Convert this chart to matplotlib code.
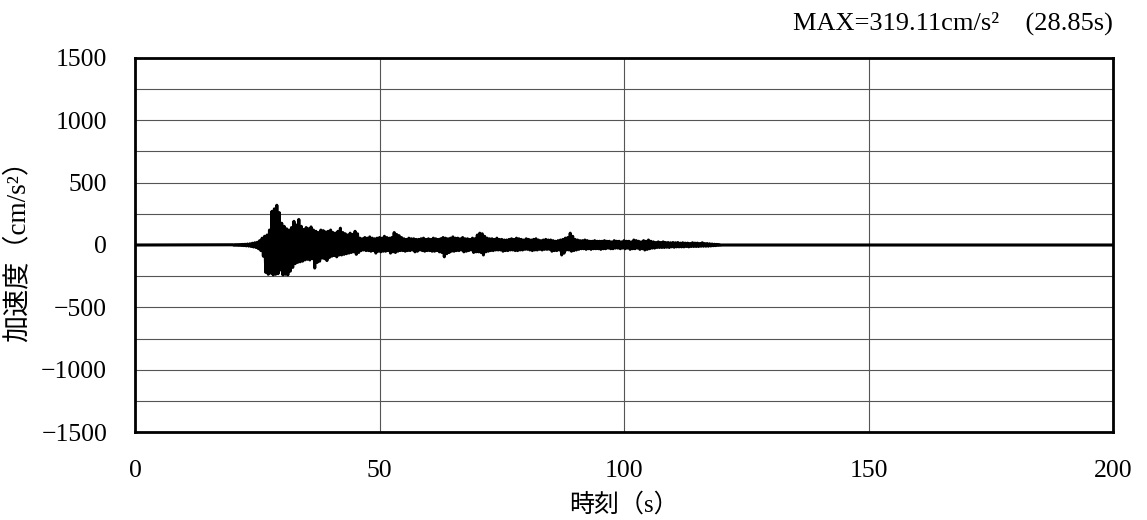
import numpy as np
import matplotlib
matplotlib.use("Agg")
import matplotlib.pyplot as plt

# 加速度時刻歴（図から読み取った値, 20s から 0.25s ごと）
t_start = 20.0
dt = 0.25
acc = [
    2, -2, 3, -2, 3, -3, 4, -4, 5, -5, 6, -7, 8, -9, 10, -12, 14, -16, 18, -20,                  # 20-
    22, -30, 35, -45, 55, -90, 70, -220, 80, -235, 120, -225, 270, -240, 290, -235, 319.11, -230, 260, -200,  # 25-
    175, -240, 150, -235, 130, -240, 120, -210, 140, -180, 190, -150, 160, -140, 205, -135, 150, -130, 125, -120,  # 30-
    140, -115, 130, -120, 145, -110, 120, -185, 110, -140, 100, -130, 120, -105, 115, -110, 105, -125, 110, -100,  # 35-
    120, -90, 100, -85, 95, -95, 110, -80, 135, -80, 100, -75, 90, -70, 80, -65, 95, -60, 85, -55,  # 40-
    110, -75, 90, -60, 55, -45, 50, -40, 60, -45, 55, -45, 65, -50, 55, -45, 50, -65, 55, -50,    # 45-
    60, -55, 55, -50, 70, -50, 60, -45, 55, -65, 60, -55, 100, -60, 85, -50, 75, -45, 60, -45,    # 50-
    50, -50, 45, -45, 55, -45, 50, -40, 50, -55, 45, -50, 45, -40, 50, -45, 55, -50, 45, -45,     # 55-
    50, -45, 45, -50, 55, -50, 50, -45, 45, -55, 50, -60, 60, -95, 55, -70, 50, -60, 55, -50,     # 60-
    65, -50, 55, -45, 55, -45, 50, -40, 60, -55, 50, -50, 50, -45, 45, -40, 55, -60, 50, -55,     # 65-
    80, -55, 95, -60, 90, -80, 70, -55, 55, -50, 50, -45, 50, -45, 45, -40, 55, -40, 45, -40,     # 70-
    45, -50, 40, -45, 40, -45, 45, -40, 50, -40, 45, -45, 55, -45, 50, -40, 45, -40, 40, -35,     # 75-
    50, -35, 45, -40, 40, -45, 45, -40, 50, -40, 40, -35, 35, -40, 40, -35, 45, -35, 40, -35,     # 80-
    40, -50, 35, -45, 30, -45, 35, -40, 40, -80, 45, -65, 55, -40, 60, -40, 95, -50, 70, -45,     # 85-
    45, -40, 40, -35, 35, -30, 35, -30, 40, -35, 35, -30, 30, -35, 30, -30, 35, -30, 30, -30,     # 90-
    30, -35, 30, -30, 35, -30, 30, -25, 30, -30, 25, -30, 35, -25, 30, -25, 30, -30, 25, -25,     # 95-
    35, -30, 30, -25, 30, -35, 25, -30, 40, -30, 35, -25, 30, -35, 25, -30, 35, -40, 30, -35,     # 100-
    40, -30, 30, -25, 25, -25, 20, -20, 25, -20, 20, -20, 25, -20, 20, -18, 20, -20, 18, -15,     # 105-
    20, -18, 18, -15, 20, -15, 15, -15, 18, -15, 15, -12, 15, -15, 12, -12, 18, -12, 15, -12,     # 110-
    15, -12, 12, -10, 18, -10, 12, -10, 12, -10, 10, -8, 8, -6, 6, -5, 5, -3, 3, -2,              # 115-
    0,                                                                                              # 120
]
t_end = 200.0

x_ticks = [0, 50, 100, 150, 200]
y_ticks = [-1500, -1000, -500, 0, 500, 1000, 1500]
y_grid = np.arange(-1500, 1501, 250)

max_text = "MAX=319.11cm/s²\u3000(28.85s)"

fam = ["Liberation Serif", "Noto Sans CJK JP"]

t = np.concatenate([[0.0], t_start + dt * np.arange(len(acc)), [t_end]])
a = np.concatenate([[0.0], acc, [0.0]])

fig = plt.figure(figsize=(11.47, 5.2), dpi=100)
ax = fig.add_axes([0.1177, 0.1692, 0.8527, 0.7193])

ax.plot(t, a, color="black", lw=2.2)

ax.set_xlim(0, 200)
ax.set_ylim(-1500, 1500)
ax.set_xticks(x_ticks)
ax.set_yticks(y_ticks)
ax.set_yticks(y_grid, minor=True)
ax.set_xticklabels([str(v) for v in x_ticks], family=fam, fontsize=18.5)
ax.set_yticklabels([str(v).replace("-", "\u2212") for v in y_ticks], family=fam, fontsize=18.5)
ax.tick_params(which="both", length=0, pad=20)
ax.tick_params(axis="x", pad=20)

ax.grid(True, which="major", axis="x", color="#555555", lw=0.8)
ax.grid(True, which="both", axis="y", color="#555555", lw=0.8)
ax.set_axisbelow(True)
for s in ax.spines.values():
    s.set_linewidth(2.0)
    s.set_color("black")

ax.set_xlabel("時刻（s）", family=fam, fontsize=18, labelpad=8)
ax.set_ylabel("加速度（cm/s²）", family=fam, fontsize=19.5, labelpad=8)

fig.text(0.9704, 0.955, max_text, family=fam, fontsize=19, ha="right", va="center")

fig.savefig("out.png", dpi=100)
